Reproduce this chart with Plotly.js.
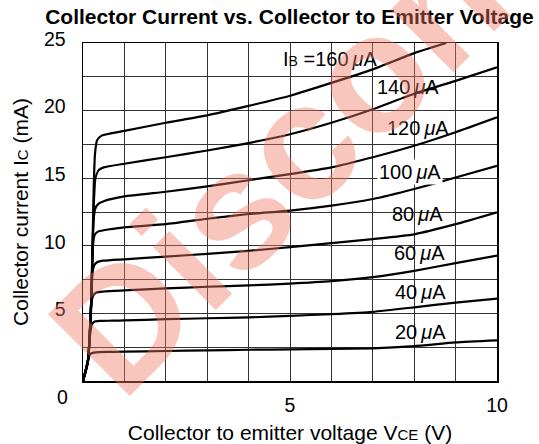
<!DOCTYPE html>
<html>
<head>
<meta charset="utf-8">
<script src="https://cdn.plot.ly/plotly-3.0.1.min.js"></script>
<style>
  html, body { margin: 0; padding: 0; background: #fff; }
  #chart { width: 539px; height: 444px; }
</style>
</head>
<body>
<div id="chart"></div>
<script>
// Ic–Vce family, one curve per base current
var vce20 = [0, 0.08, 0.14, 0.2, 0.3, 0.6, 1, 2, 3, 4, 5, 6, 7, 8, 9, 10];
var ic20  = [0, 1.0, 1.8, 2.05, 2.12, 2.15, 2.17, 2.22, 2.27, 2.31, 2.34, 2.37, 2.42, 2.58, 2.85, 3.0];

var vce40 = [0, 0.12, 0.17, 0.21, 0.27, 0.4, 0.7, 1, 2, 3, 4, 5, 6, 7, 8, 9, 10];
var ic40  = [0, 1.5, 3.4, 4.15, 4.38, 4.44, 4.46, 4.48, 4.57, 4.64, 4.7, 4.82, 4.95, 5.12, 5.45, 5.8, 6.1];

var vce60 = [0, 0.12, 0.18, 0.21, 0.25, 0.32, 0.5, 1, 2, 3, 4, 5, 6, 7, 8, 9, 10];
var ic60  = [0, 1.5, 4.3, 5.9, 6.35, 6.55, 6.62, 6.7, 6.85, 6.97, 7.07, 7.2, 7.38, 7.68, 8.15, 8.72, 9.28];

var vce80 = [0, 0.12, 0.2, 0.23, 0.27, 0.35, 0.5, 1, 2, 3, 4, 5, 6, 7, 8, 9, 10];
var ic80  = [0, 1.5, 6, 8.0, 8.55, 8.8, 8.9, 9.0, 9.2, 9.4, 9.63, 9.9, 10.2, 10.5, 10.85, 11.6, 12.48];

var vce100 = [0, 0.12, 0.2, 0.24, 0.28, 0.36, 0.5, 1, 2, 3, 4, 5, 6, 7, 8, 9, 10];
var ic100  = [0, 1.5, 6, 10, 10.8, 11.05, 11.15, 11.36, 11.6, 12.0, 12.35, 12.6, 12.97, 13.46, 14.2, 15.05, 15.92];

var vce120 = [0, 0.12, 0.2, 0.25, 0.29, 0.37, 0.5, 1, 2, 3, 4, 5, 6, 7, 8, 9, 10];
var ic120  = [0, 1.5, 6, 11.6, 12.7, 13.1, 13.3, 13.65, 14.0, 14.4, 14.85, 15.3, 15.8, 16.55, 17.4, 18.4, 19.5];

var vce140 = [0, 0.12, 0.2, 0.26, 0.3, 0.38, 0.5, 1, 2, 3, 4, 5, 6, 7, 8, 9, 10];
var ic140  = [0, 1.5, 6, 13, 15.0, 15.6, 15.8, 16.07, 16.55, 17.05, 17.6, 18.25, 19.1, 20.1, 21.25, 22.2, 23.2];

var vce160 = [0, 0.12, 0.2, 0.26, 0.29, 0.34, 0.45, 1, 2, 3, 4, 5, 6, 7, 8, 8.77];
var ic160  = [0, 1.5, 6, 14.5, 16.8, 17.8, 18.15, 18.5, 19.1, 19.65, 20.35, 21.1, 22.05, 23.05, 24.25, 25];

var curveLabels = ['20', '40', '60', '80', '100', '120', '140', '160'];
var labelV = [8.15, 8.15, 8.12, 8.09, 7.91, 8.08, 7.84, 5.97];
var labelI = [3.66, 6.6, 9.45, 12.33, 15.47, 18.69, 21.71, 23.78];

var xTicks = [5, 10];
var yTicks = [5, 10, 15, 20, 25];

var FONT = 'Liberation Sans, Arial, sans-serif';

function curve(x, y) {
  return {
    x: x, y: y, type: 'scatter', mode: 'lines',
    line: {color: '#000', width: 2.2, shape: 'spline', smoothing: 0.5},
    hoverinfo: 'skip', showlegend: false
  };
}

var data = [
  curve(vce20, ic20), curve(vce40, ic40), curve(vce60, ic60), curve(vce80, ic80),
  curve(vce100, ic100), curve(vce120, ic120), curve(vce140, ic140), curve(vce160, ic160)
];

var annotations = curveLabels.map(function (lab, i) {
  var txt = lab + '&#8201;<i>μ</i>A';
  if (lab === '160') txt = 'I<span style="font-size:14px">B</span> =' + txt;
  return {
    x: labelV[i], y: labelI[i], xref: 'x', yref: 'y',
    text: txt, showarrow: false,
    xanchor: 'center', yanchor: 'middle',
    bgcolor: lab === '100' ? '#fff' : 'rgba(0,0,0,0)',
    font: {family: FONT, size: 20, color: '#000'}
  };
});

// shared origin label
annotations.push({
  x: -0.05, y: -0.047, xref: 'paper', yref: 'paper',
  text: '0', showarrow: false, xanchor: 'center', yanchor: 'middle',
  font: {family: FONT, size: 19.5, color: '#000'}
});

// "Discontinued" stamp across the plot
annotations.push({
  x: 0.473, y: 0.638, xref: 'paper', yref: 'paper',
  text: '<b>Discon</b>', showarrow: false, textangle: -45,
  xanchor: 'center', yanchor: 'middle',
  font: {family: FONT, size: 168, color: 'rgba(238,120,98,0.42)'}
});

var layout = {
  width: 539, height: 444,
  margin: {l: 83, r: 42, t: 43, b: 63},
  paper_bgcolor: '#fff', plot_bgcolor: '#fff',
  font: {family: FONT, color: '#000'},
  title: {
    text: '<b>Collector Current vs. Collector to Emitter Voltage</b>',
    font: {family: FONT, size: 21, color: '#000'},
    x: 0.537, xanchor: 'center', y: 0.962, yanchor: 'middle'
  },
  xaxis: {
    range: [0, 10], tickvals: xTicks, ticks: '',
    showgrid: true, gridcolor: '#333', gridwidth: 1,
    minor: {dtick: 1, showgrid: true, gridcolor: '#333', gridwidth: 1},
    showline: true, mirror: true, linecolor: '#000', linewidth: 1.5,
    zeroline: false, ticklabelstandoff: 6,
    tickfont: {family: FONT, size: 19.5, color: '#000'},
    title: {
      text: 'Collector to emitter voltage V<span style="font-size:15px">CE</span> (V)',
      font: {family: FONT, size: 21, color: '#000'}, standoff: 11
    }
  },
  yaxis: {
    range: [0, 25], tickvals: yTicks, ticks: '',
    showgrid: true, gridcolor: '#333', gridwidth: 1,
    minor: {dtick: 2.5, showgrid: true, gridcolor: '#333', gridwidth: 1},
    showline: true, mirror: true, linecolor: '#000', linewidth: 1.5,
    zeroline: false, ticklabelstandoff: 12, ticklabelshift: -4,
    tickfont: {family: FONT, size: 19.5, color: '#000'},
    title: {
      text: 'Collector current I<span style="font-size:15px">C</span> (mA)',
      font: {family: FONT, size: 21, color: '#000'}, standoff: 9
    }
  },
  annotations: annotations
};

Plotly.newPlot('chart', data, layout, {staticPlot: true, displayModeBar: false});
</script>
</body>
</html>
